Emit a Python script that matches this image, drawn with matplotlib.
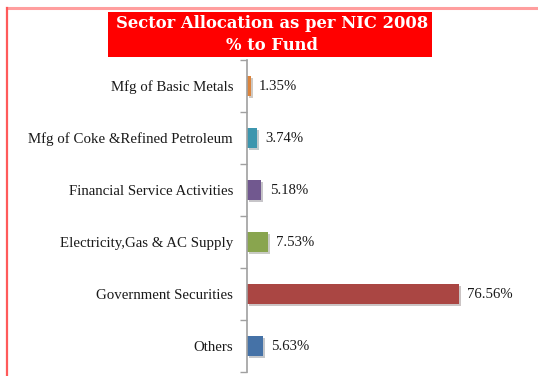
import matplotlib
matplotlib.use('Agg')
import matplotlib.pyplot as plt
from matplotlib import patheffects
from matplotlib.patches import Rectangle
from matplotlib.lines import Line2D

# sector allocation, top to bottom as shown
sectors = ['Mfg of Basic Metals', 'Mfg of Coke &Refined Petroleum',
           'Financial Service Activities', 'Electricity,Gas & AC Supply',
           'Government Securities', 'Others']
share = [1.35, 3.74, 5.18, 7.53, 76.56, 5.63]
colors = ['#DB843D', '#3D96AE', '#71588F', '#89A54E', '#AA4643', '#4572A7']

W, H = 538, 376
fig = plt.figure(figsize=(W / 100, H / 100), dpi=100)

# slide frame lines
fig.add_artist(Line2D([6.5 / W, 1], [1 - 7.5 / H, 1 - 7.5 / H], color='#FF9E9E', lw=2.2))
fig.add_artist(Line2D([6.5 / W, 6.5 / W], [0, 1 - 7.5 / H], color='#FF5A5A', lw=1.6))

# title box
fig.add_artist(Rectangle((108 / W, 1 - 57 / H), 324 / W, 45 / H,
                         transform=fig.transFigure, facecolor='#FF0000', edgecolor='none'))
fig.text(272 / W, 1 - 23 / H, 'Sector Allocation as per NIC 2008', color='white',
         family='DejaVu Serif', weight='bold', fontsize=11.8, ha='center', va='center')
fig.text(272 / W, 1 - 45 / H, '% to Fund', color='white',
         family='DejaVu Serif', weight='bold', fontsize=11.8, ha='center', va='center')

ax = fig.add_axes([247 / W, 4 / H, 277 / W, 312 / H])
ypos = list(range(len(sectors)))[::-1]
bars = ax.barh(ypos, share, height=0.4, color=colors, edgecolor='none')
for b in bars:
    b.set_path_effects([patheffects.SimplePatchShadow(offset=(1.5, -1.5), alpha=0.25),
                        patheffects.Normal()])

for y, v in zip(ypos, share):
    ax.annotate(f'{v:.2f}%', (v, y), xytext=(6, 0), textcoords='offset points',
                va='center', ha='left', family='Liberation Serif', fontsize=10.6, color='#1a1a1a')

ax.set_xlim(0, 100)
ax.set_ylim(-0.5, len(sectors) - 0.5)
ax.set_yticks([y - 0.5 for y in range(len(sectors) + 1)], minor=False)
ax.set_yticklabels([])
ax.set_yticks(ypos, minor=True)
ax.set_yticklabels(sectors, minor=True, family='Liberation Serif', fontsize=10.7, color='#1a1a1a')
ax.tick_params(axis='y', which='major', length=5, color='#A0A0A0', width=1)
ax.tick_params(axis='y', which='minor', length=0, pad=10)
ax.set_xticks([])
for s in ['top', 'right', 'bottom']:
    ax.spines[s].set_visible(False)
ax.spines['left'].set_color('#A0A0A0')
ax.spines['left'].set_linewidth(1.2)

plt.savefig('out.png', dpi=100)
